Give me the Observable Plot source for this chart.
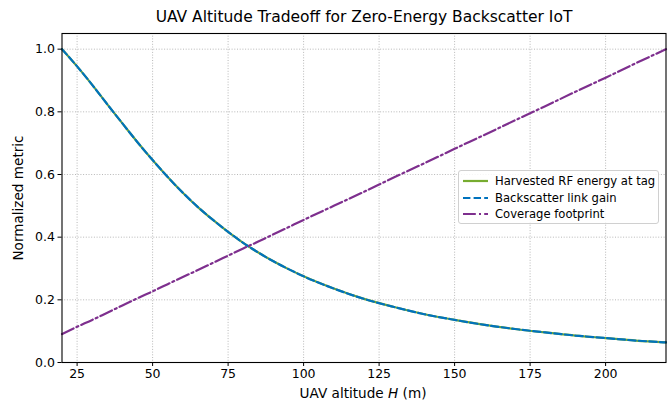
<!DOCTYPE html>
<html>
<head>
<meta charset="utf-8">
<script src="https://cdn.jsdelivr.net/npm/d3@7"></script>
<script src="https://cdn.jsdelivr.net/npm/@observablehq/plot@0.6"></script>
<style>
  html, body { margin: 0; padding: 0; background: #fff; }
  body { width: 668px; height: 403px; position: relative; overflow: hidden; font-family: "DejaVu Sans", sans-serif; }
  #title { height: 28px; line-height: 28px; text-align: center; font-size: 15.5px; color: #000; padding-left: 60px; box-sizing: border-box; padding-top: 3px; }
  #xlabel { position: absolute; left: 0; width: 726px; top: 385px; text-align: center; font-size: 13.6px; }
  #legend { position: absolute; left: 458px; top: 170px; width: 201px; height: 54px; border: 1px solid #d0d0d0; border-radius: 3px; background: rgba(255,255,255,0.85); box-sizing: border-box; }
  .row { position: absolute; left: 0; height: 16px; font-size: 11.6px; line-height: 16px; white-space: nowrap; }
  .row svg { position: absolute; left: 3px; top: 0; }
  .row span { position: absolute; left: 36px; top: 0; }
</style>
</head>
<body>
<div id="title">UAV Altitude Tradeoff for Zero-Energy Backscatter IoT</div>
<div id="chart"></div>
<div id="xlabel">UAV altitude <i>H</i> (m)</div>
<div id="legend"></div>
<script>
const altitudes = [20, 25, 30, 35, 40, 45, 50, 55, 60, 65, 70, 75, 80, 85, 90, 95, 100, 110, 120, 130, 140, 150, 160, 170, 180, 190, 200, 210, 220];
const harvested = [1.0, 0.945, 0.886, 0.824, 0.763, 0.703, 0.646, 0.592, 0.542, 0.496, 0.455, 0.417, 0.382, 0.351, 0.323, 0.298, 0.275, 0.236, 0.203, 0.177, 0.154, 0.136, 0.120, 0.107, 0.096, 0.086, 0.078, 0.070, 0.064];
const backscatter = [1.0, 0.945, 0.886, 0.824, 0.763, 0.703, 0.646, 0.592, 0.542, 0.496, 0.455, 0.417, 0.382, 0.351, 0.323, 0.298, 0.275, 0.236, 0.203, 0.177, 0.154, 0.136, 0.120, 0.107, 0.096, 0.086, 0.078, 0.070, 0.064];
const coverage = [0.091, 0.114, 0.136, 0.159, 0.182, 0.205, 0.227, 0.250, 0.273, 0.295, 0.318, 0.341, 0.364, 0.386, 0.409, 0.432, 0.455, 0.500, 0.545, 0.591, 0.636, 0.682, 0.727, 0.773, 0.818, 0.864, 0.909, 0.955, 1.0];
const seriesNames = ["Harvested RF energy at tag", "Backscatter link gain", "Coverage footprint"];
const xTicks = [25, 50, 75, 100, 125, 150, 175, 200];
const yTicks = [0, 0.2, 0.4, 0.6, 0.8, 1.0];

const colors = ["#77AC30", "#0072BD", "#7E2F8E"];
const dashes = [null, "7.4,3.2", "12.8,3.2,2,3.2"];

const rowsH = altitudes.map((h, i) => ({H: h, v: harvested[i]}));
const rowsB = altitudes.map((h, i) => ({H: h, v: backscatter[i]}));
const rowsC = altitudes.map((h, i) => ({H: h, v: coverage[i]}));

const chart = Plot.plot({
  width: 668,
  height: 375,
  marginTop: 5,
  marginBottom: 41,
  marginLeft: 61.5,
  marginRight: 2.5,
  style: {fontFamily: "DejaVu Sans, sans-serif", fontSize: "12.5px", color: "#000", background: "#fff"},
  x: {domain: [20, 220]},
  y: {domain: [0, 1.05]},
  marks: [
    Plot.gridX(xTicks, {stroke: "#b0b0b0", strokeOpacity: 1, strokeDasharray: "1,1.7", strokeWidth: 0.9}),
    Plot.gridY(yTicks, {stroke: "#b0b0b0", strokeOpacity: 1, strokeDasharray: "1,1.7", strokeWidth: 0.9}),
    Plot.line(rowsH, {x: "H", y: "v", stroke: colors[0], strokeWidth: 2.2, curve: "monotone-x"}),
    Plot.line(rowsB, {x: "H", y: "v", stroke: colors[1], strokeWidth: 2.2, strokeDasharray: dashes[1], curve: "monotone-x"}),
    Plot.line(rowsC, {x: "H", y: "v", stroke: colors[2], strokeWidth: 2.2, strokeDasharray: dashes[2], curve: "monotone-x"}),
    Plot.frame({stroke: "#000", strokeWidth: 1.1}),
    Plot.axisX(xTicks, {tickSize: 4, tickPadding: 3, label: null, fontSize: 12.5, stroke: "#000"}),
    Plot.axisY(yTicks, {tickSize: 4, tickPadding: 3, label: null, fontSize: 12.5, tickFormat: d3.format(".1f"), stroke: "#000"}),
    Plot.text(["Normalized metric"], {frameAnchor: "left", rotate: -90, dx: -43, textAnchor: "middle", fontSize: 13.6, fill: "#000"})
  ]
});
document.getElementById("chart").appendChild(chart);

const legend = document.getElementById("legend");
const rowTops = [2, 19, 35];
seriesNames.forEach((name, i) => {
  const row = document.createElement("div");
  row.className = "row";
  row.style.top = rowTops[i] + "px";
  const dash = dashes[i] ? `stroke-dasharray="${dashes[i]}"` : "";
  row.innerHTML = `<svg width="30" height="16"><line x1="1" x2="26" y1="8" y2="8" stroke="${colors[i]}" stroke-width="2.2" ${dash}/></svg><span>${name}</span>`;
  legend.appendChild(row);
});
</script>
</body>
</html>
